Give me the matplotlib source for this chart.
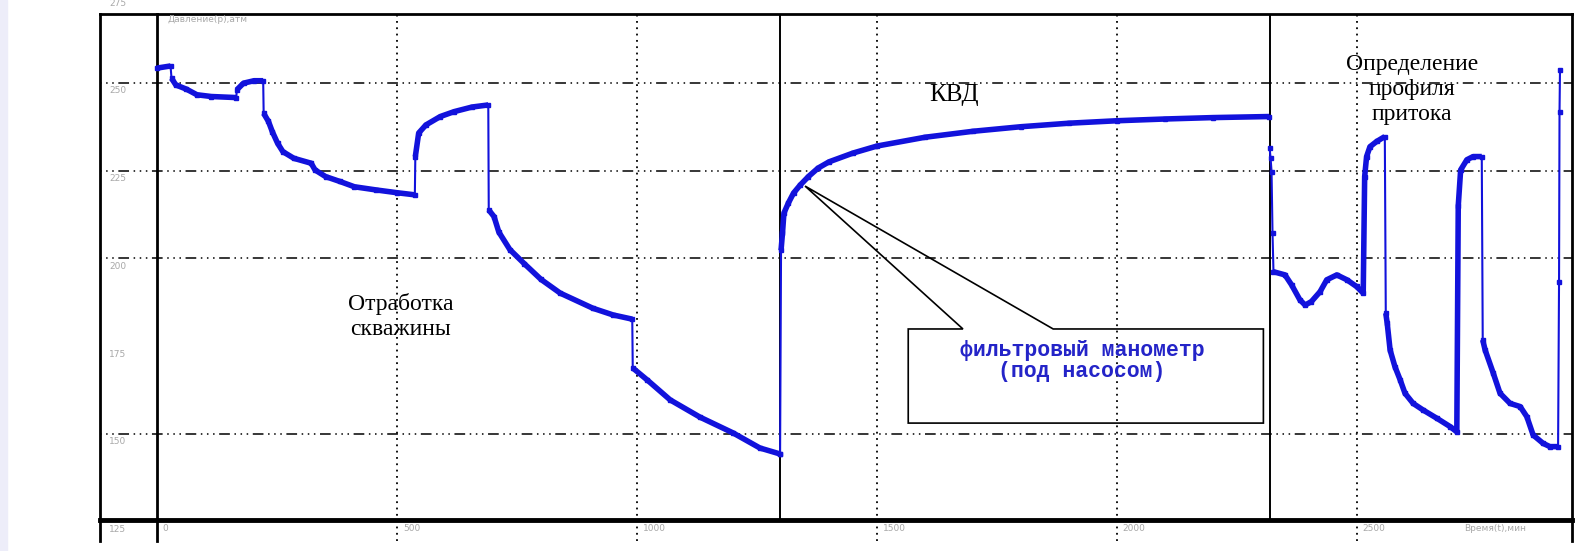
import numpy as np
import matplotlib.pyplot as plt
from matplotlib.patches import Rectangle, Polygon

# Отработка скважины
t_work = [0, 28, 30, 39, 61, 83, 113, 165, 166, 180, 202, 221, 222, 232, 240, 251, 262, 285,
          321, 329, 351, 381, 411, 456, 500, 537, 538, 545, 560, 590, 619, 656, 690, 691,
          702, 712, 735, 765, 800, 840, 908, 950, 990, 991, 1021, 1069, 1131, 1200, 1256, 1298]
p_work = [254.2, 254.8, 251.3, 249.4, 248.2, 246.6, 246.1, 245.8, 248.0, 249.9, 250.6, 250.6,
          241.3, 239.0, 236.1, 232.8, 230.4, 228.5, 227.1, 225.2, 223.3, 221.9, 220.4, 219.5,
          218.7, 218.1, 229.0, 235.7, 238.0, 240.4, 241.8, 243.1, 243.7, 213.8,
          211.9, 207.5, 202.5, 198.5, 194.0, 190.1, 185.8, 183.9, 182.7, 168.8, 165.4, 159.7,
          154.8, 150.3, 146.0, 144.3]

# КВД
t_kvd = [1298, 1300, 1303, 1306, 1315, 1326, 1340, 1357, 1377, 1400, 1450, 1500, 1600, 1700,
         1800, 1900, 2000, 2100, 2200, 2317]
p_kvd = [144.3, 202.3, 207.2, 212.9, 215.7, 218.6, 220.9, 223.3, 225.7, 227.5, 230.0, 232.0,
         234.5, 236.2, 237.5, 238.5, 239.2, 239.7, 240.1, 240.4]

# Определение профиля притока
t_prof = [2318, 2320, 2322, 2324, 2326, 2350, 2364, 2381, 2392, 2405, 2423, 2437, 2458, 2479,
          2499, 2513, 2516, 2520, 2527, 2541, 2558, 2560, 2563, 2569, 2579, 2590, 2600, 2617,
          2638, 2666, 2694, 2708, 2711, 2716, 2729, 2742, 2760, 2762, 2767, 2784, 2798, 2819,
          2840, 2854, 2867, 2888, 2902, 2919, 2921, 2922, 2923]
p_prof = [231.4, 228.5, 224.7, 207.2, 196.2, 195.3, 192.4, 188.2, 186.7, 187.7, 190.5, 193.9,
          195.3, 193.9, 192.0, 190.1, 223.3, 229.0, 231.8, 233.3, 234.7, 184.4, 181.5, 173.9,
          169.2, 165.4, 161.6, 158.7, 156.8, 154.5, 152.1, 150.6, 215.0, 225.2, 228.1, 229.0,
          229.0, 176.8, 173.9, 167.3, 161.6, 158.7, 157.8, 154.9, 149.7, 147.3, 146.4, 146.4,
          193.4, 241.8, 253.7]

x_ticks = [0, 500, 1000, 1500, 2000, 2500]
y_ticks = [125, 150, 175, 200, 225, 250, 275]
y_grid = [150, 200, 225, 250]
phase_lines = [1298, 2319]

blue = '#1212DC'
grey = '#A8A8A8'

fig = plt.figure(figsize=(15.8, 5.51), dpi=100)
fig.patches.append(Rectangle((0, 0), 7 / 1580, 1, transform=fig.transFigure,
                             color='#EDEDF9', zorder=0))
ax = fig.add_axes([100 / 1580, 31 / 551, 1472 / 1580, 506 / 551])
ax.set_xlim(-119, 2948)
ax.set_ylim(125.5, 269.6)
ax.set_xticks([])
ax.set_yticks([])
for side in ['left', 'top', 'right']:
    ax.spines[side].set_linewidth(2)
ax.spines['bottom'].set_linewidth(3.5)

# сетка
for v in y_grid:
    ax.plot([-119, 2948], [v, v], color='black', lw=1.1,
            ls=(0, (1, 3, 1, 3, 1, 3, 7, 3)))
for v in x_ticks[1:]:
    ax.plot([v, v], [119.6, 269.6], color='black', lw=1.3, ls=(0, (1, 2.5)), clip_on=False)
ax.plot([0, 0], [119.6, 269.6], color='black', lw=2, clip_on=False)
for v in [-119, 2948]:
    ax.plot([v, v], [119.6, 125.5], color='black', lw=2, clip_on=False)
for v in phase_lines:
    ax.plot([v, v], [125.5, 269.6], color='black', lw=1.4)

# подписи осей
for v in y_ticks:
    ax.text(-100, v - 1.0, str(v), ha='left', va='top', fontsize=6.5, color=grey, clip_on=False)
for v in x_ticks:
    ax.text(v + 12, 123.2, str(v), ha='left', va='center', fontsize=6.5, color=grey, clip_on=False)
ax.text(21, 267.9, 'Давление(р),атм', ha='left', va='center', fontsize=6.5, color=grey)
ax.text(2787, 123.2, 'Время(t),мин', ha='center', va='center', fontsize=6.5, color=grey,
        clip_on=False)


def draw_curve(t, p):
    t = np.array(t)
    p = np.array(p)
    ax.plot(t, p, color=blue, lw=1.5, marker='s', ms=2.5, zorder=3)
    # толстые участки — где время реально идёт
    run = [0]
    for i in range(1, len(t)):
        if t[i] - t[i - 1] > 2:
            run.append(i)
        else:
            if len(run) > 1:
                ax.plot(t[run], p[run], color=blue, lw=4, solid_capstyle='butt', zorder=4)
            run = [i]
    if len(run) > 1:
        ax.plot(t[run], p[run], color=blue, lw=4, solid_capstyle='butt', zorder=4)


draw_curve(t_work, p_work)
draw_curve(t_kvd, p_kvd)
draw_curve(t_prof, p_prof)

# выноска
callout = Polygon([[1565, 179.9], [1679, 179.9], [1350, 220.6], [1867, 179.9],
                   [2305, 179.9], [2305, 153.1], [1565, 153.1]],
                  closed=True, fill=False, edgecolor='black', lw=1.2, zorder=5)
ax.add_patch(callout)
ax.text(1927, 170.8, 'фильтровый манометр\n(под насосом)', ha='center', va='center',
        fontsize=15.5, family='Liberation Mono', weight='bold', color='#2424C8',
        linespacing=0.95, zorder=6)

serif = 'Liberation Serif'
ax.text(1661, 246.4, 'КВД', ha='center', va='center', fontsize=18, family=serif)
ax.text(508, 183.4, 'Отработка\nскважины', ha='center', va='center', fontsize=17,
        family=serif, linespacing=1.25)
ax.text(2615, 248.0, 'Определение\nпрофиля\nпритока', ha='center', va='center',
        fontsize=17, family=serif, linespacing=1.25)

fig.savefig('out.png', dpi=100)
